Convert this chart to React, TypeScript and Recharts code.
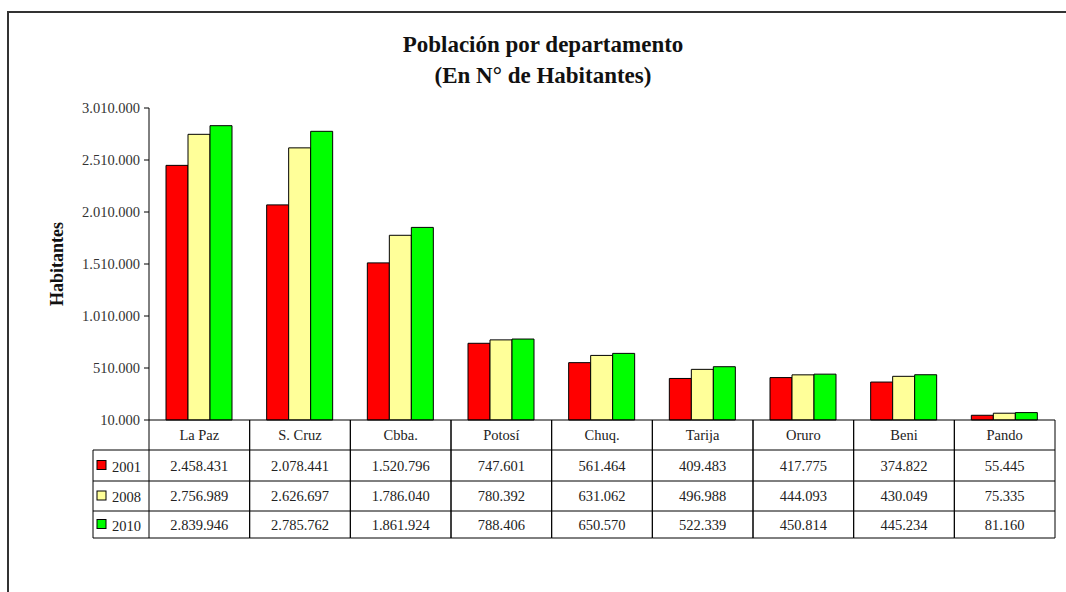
import React from 'react';
import { BarChart, Bar, XAxis, YAxis, Label } from 'recharts';

const departamentos = ['La Paz', 'S. Cruz', 'Cbba.', 'Potosí', 'Chuq.', 'Tarija', 'Oruro', 'Beni', 'Pando'];
const pob2001 = [2458431, 2078441, 1520796, 747601, 561464, 409483, 417775, 374822, 55445];
const pob2008 = [2756989, 2626697, 1786040, 780392, 631062, 496988, 444093, 430049, 75335];
const pob2010 = [2839946, 2785762, 1861924, 788406, 650570, 522339, 450814, 445234, 81160];
const yTicks = [10000, 510000, 1010000, 1510000, 2010000, 2510000, 3010000];
const years = ['2001', '2008', '2010'];

const colors = { '2001': '#ff0000', '2008': '#ffff99', '2010': '#00ff00' };
const seriesValues = [pob2001, pob2008, pob2010];

const data = departamentos.map((d, i) => ({
  name: d,
  y2001: pob2001[i],
  y2008: pob2008[i],
  y2010: pob2010[i]
}));

const W = 1066;
const H = 592;
const PLOT_LEFT = 149;
const PLOT_RIGHT = 1055;
const PLOT_TOP = 108;
const PLOT_BOTTOM = 420;
const ROW_LINES = [450, 481, 511, 538];
const LEGEND_LEFT = 93;
const FONT = '"Liberation Serif", "Times New Roman", serif';

const fmt = (v: number) => String(v).replace(/\B(?=(\d{3})+(?!\d))/g, '.');

const TableTick = (props: any) => {
  const { x, payload } = props;
  const idx = payload.index;
  const half = (PLOT_RIGHT - PLOT_LEFT) / departamentos.length / 2;
  const left = x - half;
  const right = x + half;
  return (
    <g fontFamily={FONT} fontSize={14.5} fill="#222">
      <line x1={left} y1={PLOT_BOTTOM} x2={left} y2={ROW_LINES[3]} stroke="#000" />
      <line x1={right} y1={PLOT_BOTTOM} x2={right} y2={ROW_LINES[3]} stroke="#000" />
      {ROW_LINES.map((ly) => (
        <line key={ly} x1={left} y1={ly} x2={right} y2={ly} stroke="#000" />
      ))}
      <text x={x} y={440} textAnchor="middle">{payload.value}</text>
      {seriesValues.map((vals, r) => (
        <text key={r} x={x} y={(ROW_LINES[r] + ROW_LINES[r + 1]) / 2 + 5} textAnchor="middle">
          {fmt(vals[idx])}
        </text>
      ))}
      {idx === 0 && (
        <g>
          <line x1={LEGEND_LEFT} y1={ROW_LINES[0]} x2={LEGEND_LEFT} y2={ROW_LINES[3]} stroke="#000" />
          {ROW_LINES.map((ly) => (
            <line key={ly} x1={LEGEND_LEFT} y1={ly} x2={left} y2={ly} stroke="#000" />
          ))}
          {years.map((yr, r) => {
            const cy = (ROW_LINES[r] + ROW_LINES[r + 1]) / 2;
            return (
              <g key={yr}>
                <rect x={97} y={cy - 5} width={9} height={9} fill={(colors as any)[yr]} stroke="#000" />
                <text x={112} y={cy + 6}>{yr}</text>
              </g>
            );
          })}
        </g>
      )}
    </g>
  );
};

export default function App() {
  return (
    <div style={{ position: 'absolute', left: 0, top: 0, width: W, height: H, overflow: 'hidden', background: '#fff' }}>
      <div
        style={{
          position: 'absolute',
          left: 7,
          top: 11,
          width: 1080,
          height: 620,
          border: '2px solid #333'
        }}
      />
      <div
        style={{
          position: 'absolute',
          left: 0,
          top: 29,
          width: 1086,
          textAlign: 'center',
          fontFamily: FONT,
          fontWeight: 'bold',
          fontSize: 23,
          lineHeight: '31px',
          color: '#111'
        }}
      >
        <div>Población por departamento</div>
        <div>(En N° de Habitantes)</div>
      </div>
      <div style={{ position: 'absolute', left: 0, top: 0 }}>
        <BarChart
          width={W}
          height={H}
          data={data}
          margin={{ top: PLOT_TOP, right: W - PLOT_RIGHT, bottom: 0, left: PLOT_LEFT - 100 }}
          barCategoryGap={17}
          barGap={0}
        >
          <YAxis
            width={100}
            domain={[10000, 3010000]}
            ticks={yTicks}
            interval={0}
            tickFormatter={fmt}
            axisLine={{ stroke: '#000' }}
            tickLine={{ stroke: '#000' }}
            tickSize={5}
            tickMargin={4}
            tick={{ fontFamily: FONT, fontSize: 14.5, fill: '#333' }}
          >
            <Label
              value="Habitantes"
              angle={-90}
              position="insideLeft"
              offset={8}
              style={{ fontFamily: FONT, fontSize: 18, fontWeight: 'bold', fill: '#111', textAnchor: 'middle' }}
            />
          </YAxis>
          <XAxis
            dataKey="name"
            interval={0}
            height={H - PLOT_BOTTOM}
            axisLine={{ stroke: '#000' }}
            tickLine={false}
            tick={<TableTick />}
          />
          <Bar dataKey="y2001" fill={colors['2001']} stroke="#000" strokeWidth={1} isAnimationActive={false} />
          <Bar dataKey="y2008" fill={colors['2008']} stroke="#000" strokeWidth={1} isAnimationActive={false} />
          <Bar dataKey="y2010" fill={colors['2010']} stroke="#000" strokeWidth={1} isAnimationActive={false} />
        </BarChart>
      </div>
    </div>
  );
}
